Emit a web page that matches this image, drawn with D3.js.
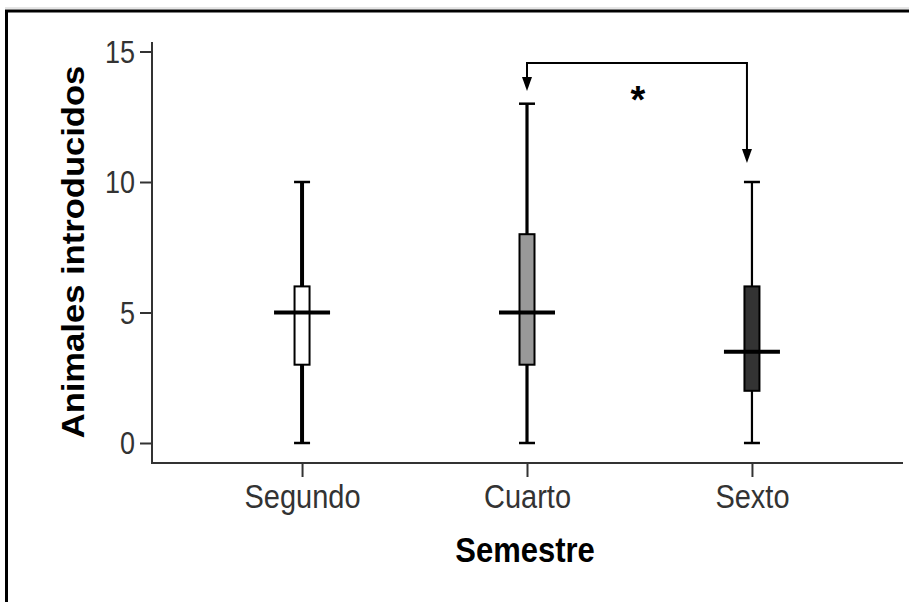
<!DOCTYPE html>
<html><head><meta charset="utf-8">
<script src="https://cdn.jsdelivr.net/npm/d3@7/dist/d3.min.js"></script>
<style>
html,body{margin:0;padding:0;background:#fff;}
svg{display:block;}
text{font-family:"Liberation Sans",Arial,sans-serif;}
</style></head><body>
<svg id="chart" width="909" height="602"></svg>
<script>
const categories = ["Segundo", "Cuarto", "Sexto"];
const mins = [0, 0, 0];
const q1s = [3, 3, 2];
const medians = [5, 5, 3.5];
const q3s = [6, 8, 6];
const maxs = [10, 13, 10];
const fills = ["#ffffff", "#999999", "#333333"];
const whiskerWidths = [4, 3.2, 2.2];
const yTicks = [0, 5, 10, 15];
const yLabel = "Animales introducidos";
const xLabel = "Semestre";
const sigLabel = "*";

const svg = d3.select("#chart");
const SY = 1.15;

const x = d3.scalePoint().domain(categories).range([152, 902]).padding(0.667);
const y = d3.scaleLinear().domain([0, 15]).range([443, 51.5]);

// frame
svg.append("line").attr("x1", 5).attr("x2", 909).attr("y1", 8).attr("y2", 8).attr("stroke", "#ccc").attr("stroke-width", 1);
svg.append("line").attr("x1", 5).attr("x2", 909).attr("y1", 11).attr("y2", 11).attr("stroke", "#000").attr("stroke-width", 3);
svg.append("line").attr("x1", 6.5).attr("x2", 6.5).attr("y1", 10).attr("y2", 602).attr("stroke", "#000").attr("stroke-width", 3);

// y axis
const yAxis = svg.append("g").attr("transform", "translate(152,0)")
  .call(d3.axisLeft(y).tickValues(yTicks).tickSize(12).tickPadding(5).tickSizeOuter(0));
yAxis.select(".domain").remove();
yAxis.selectAll(".tick line").attr("stroke", "#333").attr("stroke-width", 2);
yAxis.selectAll(".tick text").attr("font-size", 27).attr("fill", "#333")
  .attr("font-family", "Liberation Sans, Arial, sans-serif")
  .attr("dy", null).attr("dominant-baseline", "central")
  .attr("transform", `scale(1,${SY})`);
svg.append("line").attr("x1", 152).attr("x2", 152).attr("y1", 42).attr("y2", 464).attr("stroke", "#333").attr("stroke-width", 2);

// x axis
const xAxis = svg.append("g").attr("transform", "translate(0,463)")
  .call(d3.axisBottom(x).tickSize(14).tickPadding(8).tickSizeOuter(0));
xAxis.select(".domain").remove();
xAxis.selectAll(".tick line").attr("stroke", "#333").attr("stroke-width", 2);
xAxis.selectAll(".tick text").attr("font-size", 29).attr("fill", "#333")
  .attr("font-family", "Liberation Sans, Arial, sans-serif")
  .attr("y", 0).attr("dy", null).attr("dominant-baseline", "central")
  .attr("transform", `translate(0,34) scale(1,${SY})`);
svg.append("line").attr("x1", 151).attr("x2", 903).attr("y1", 463).attr("y2", 463).attr("stroke", "#333").attr("stroke-width", 2);

// boxplots
const data = categories.map((c, i) => ({c, min: mins[i], q1: q1s[i], med: medians[i], q3: q3s[i], max: maxs[i], fill: fills[i], ww: whiskerWidths[i]}));
const g = svg.append("g");
const boxW = 15, capW = 16, medW = 56;
data.forEach(d => {
  const cx = x(d.c);
  g.append("line").attr("x1", cx).attr("x2", cx).attr("y1", y(d.max)).attr("y2", y(d.q3)).attr("stroke", "#000").attr("stroke-width", d.ww);
  g.append("line").attr("x1", cx).attr("x2", cx).attr("y1", y(d.q1)).attr("y2", y(d.min)).attr("stroke", "#000").attr("stroke-width", d.ww);
  g.append("line").attr("x1", cx - capW/2).attr("x2", cx + capW/2).attr("y1", y(d.max)).attr("y2", y(d.max)).attr("stroke", "#000").attr("stroke-width", 2.5);
  g.append("line").attr("x1", cx - capW/2).attr("x2", cx + capW/2).attr("y1", y(d.min)).attr("y2", y(d.min)).attr("stroke", "#000").attr("stroke-width", 2.5);
  g.append("rect").attr("x", cx - boxW/2).attr("width", boxW).attr("y", y(d.q3)).attr("height", y(d.q1) - y(d.q3))
    .attr("fill", d.fill).attr("stroke", "#000").attr("stroke-width", 2);
  g.append("line").attr("x1", cx - medW/2).attr("x2", cx + medW/2).attr("y1", y(d.med)).attr("y2", y(d.med)).attr("stroke", "#000").attr("stroke-width", 4);
});

// significance bracket
const bx1 = x("Cuarto"), bx2 = x("Sexto") - 5;
const bTop = 63;
const tip1 = 91, tip2 = 163;
svg.append("path")
  .attr("d", `M${bx1},${tip1 - 14} L${bx1},${bTop} L${bx2},${bTop} L${bx2},${tip2 - 14}`)
  .attr("fill", "none").attr("stroke", "#000").attr("stroke-width", 2);
[[bx1, tip1], [bx2, tip2]].forEach(([px, py]) => {
  svg.append("path").attr("d", `M${px-5},${py-14} L${px+5},${py-14} L${px},${py} Z`).attr("fill", "#000");
});
svg.append("text").attr("x", (bx1 + bx2) / 2 + 1).attr("y", 113).attr("text-anchor", "middle")
  .attr("font-size", 38).attr("font-weight", "bold").attr("fill", "#000").text(sigLabel);

// axis titles
svg.append("text").attr("transform", `translate(84,252) rotate(-90) scale(${SY * 0.97},1)`).attr("text-anchor", "middle")
  .attr("font-size", 31).attr("font-weight", "bold").attr("fill", "#000").text(yLabel);
svg.append("text").attr("transform", `translate(525,562) scale(1,${SY})`).attr("text-anchor", "middle")
  .attr("font-size", 31).attr("font-weight", "bold").attr("fill", "#000").text(xLabel);
</script>
</body></html>
